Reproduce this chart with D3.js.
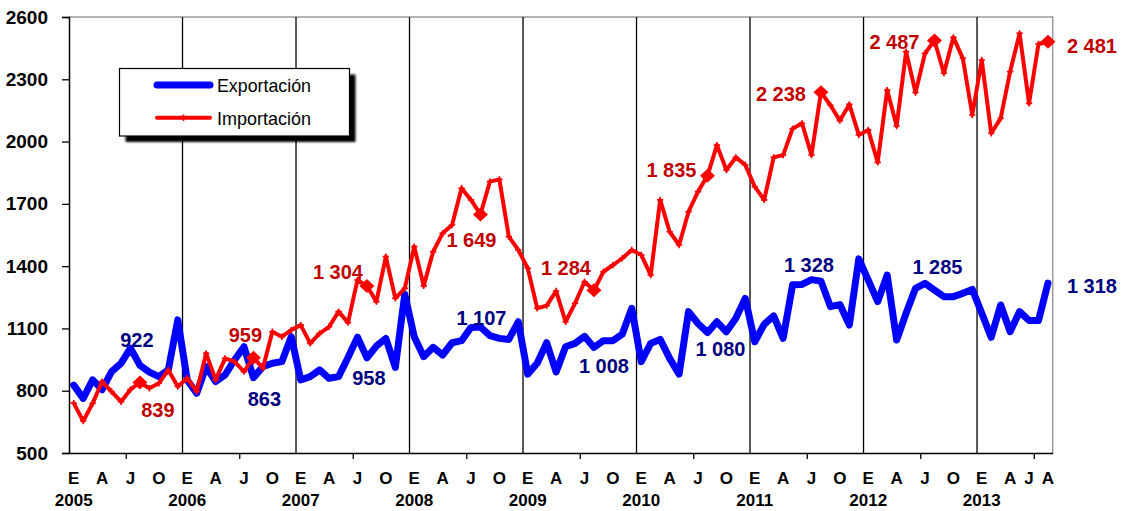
<!DOCTYPE html>
<html>
<head>
<meta charset="utf-8">
<script src="https://cdn.jsdelivr.net/npm/d3@7"></script>
<style>
  body { margin: 0; background: #fff; }
  svg { display: block; }
  text { font-family: Arial, "Liberation Sans", sans-serif; }
</style>
</head>
<body>
<svg id="chart" width="1126" height="511"></svg>
<script>
// Monthly trade flows, January 2005 – August 2013
const years = [2005, 2006, 2007, 2008, 2009, 2010, 2011, 2012, 2013];
const monthsInLastYear = 8;

const exportacion = [
  827, 763, 852, 805, 892, 932, 1005, 922, 890, 868, 900, 1141,
  852, 788, 916, 844, 876, 948, 1012, 863, 916, 932, 940, 1060,
  852, 868, 900, 860, 868, 960, 1058, 958, 1015, 1052, 912, 1265,
  1060, 964, 1009, 972, 1031, 1041, 1105, 1107, 1065, 1052, 1047, 1132,
  880, 932, 1031, 890, 1012, 1028, 1062, 1008, 1041, 1041, 1073, 1197,
  940, 1028, 1047, 956, 880, 1181, 1124, 1080, 1132, 1084, 1149, 1245,
  1036, 1120, 1160, 1052, 1310, 1312, 1335, 1328, 1205, 1215, 1116, 1435,
  1333, 1229, 1357, 1044, 1173, 1293, 1317, 1285, 1253, 1253, 1269, 1288,
  1173, 1057, 1213, 1084, 1181, 1138, 1138, 1318
];

const importacion = [
  740, 654, 739, 844, 796, 747, 806, 839, 812, 836, 900, 820,
  860, 796, 980, 852, 956, 940, 892, 959, 908, 1084, 1060, 1092,
  1116, 1028, 1076, 1108, 1181, 1128, 1333, 1304, 1229, 1446, 1245, 1293,
  1494, 1305, 1470, 1558, 1598, 1775, 1719, 1649, 1807, 1818, 1542, 1478,
  1390, 1197, 1210, 1280, 1132, 1221, 1325, 1284, 1373, 1405, 1438, 1478,
  1454, 1357, 1719, 1566, 1502, 1662, 1759, 1835, 1983, 1863, 1924, 1887,
  1783, 1719, 1924, 1935, 2062, 2088, 1935, 2238, 2175, 2101, 2179, 2032,
  2056, 1900, 2248, 2075, 2433, 2236, 2425, 2487, 2329, 2502, 2401, 2128,
  2393, 2040, 2112, 2337, 2521, 2184, 2470, 2481
];

const yTicks = [500, 800, 1100, 1400, 1700, 2000, 2300, 2600];
const monthTickIdx = [];
const monthTickText = [];
years.forEach((yr, k) => {
  const base = k * 12;
  if (yr < 2013) {
    ["E", "A", "J", "O"].forEach((m, j) => { monthTickIdx.push(base + j * 3); monthTickText.push(m); });
  }
});
// last (partial) year
[[96, "E"], [99, "A"], [101, "J"], [103, "A"]].forEach(([i, t]) => { monthTickIdx.push(i); monthTickText.push(t); });

const seriesNames = ["Exportación", "Importación"];

// categories: one per month
const periods = [];
years.forEach((yr, k) => {
  const n = yr === 2013 ? monthsInLastYear : 12;
  for (let m = 1; m <= n; m++) periods.push(yr + "-" + String(m).padStart(2, "0"));
});
// August of every year carries a marker and a value label
const augustIdx = periods.map((p, i) => p.endsWith("-08") ? i : -1).filter(i => i >= 0);

// label placement around each August point (dx, dy from the point)
const impLabelOffset = [[18, 27], [-8, -23], [-29, -14], [-9, 26], [-28, -22], [-36, -6], [-40, 2], [-40, 2], [44, 4]];
const expLabelOffset = [[-3, -25], [11, 21], [2, 20], [1, -9], [10, 18], [13, 16], [-12, -16], [3, -23], [44, 3]];

// ---------- layout ----------
const svg = d3.select("#chart");
const L = 69, R = 1052.7, T = 17, B = 453;

const xb = d3.scaleBand().domain(d3.range(periods.length)).range([L, R]).padding(0);
const cx = i => xb(i) + xb.bandwidth() / 2;
const y = d3.scaleLinear().domain([500, 2600]).range([B, T]);

const fmt = d3.formatLocale({ decimal: ".", thousands: " ", grouping: [3], currency: ["", ""] }).format(",");

// plot frame: top and right in grey
svg.append("path")
  .attr("d", `M${L},${T}H${R}V${B}`)
  .attr("fill", "none").attr("stroke", "#9a9a9a").attr("stroke-width", 1.5);

// year separators
svg.append("g").selectAll("line")
  .data(d3.range(12, periods.length, 12))
  .join("line")
  .attr("x1", d => xb(d)).attr("x2", d => xb(d))
  .attr("y1", T).attr("y2", B)
  .attr("stroke", "#000").attr("stroke-width", 1.3);

// Y axis
const yAxis = svg.append("g")
  .attr("transform", `translate(${L},0)`)
  .call(d3.axisLeft(y).tickValues(yTicks).tickSize(7).tickPadding(14).tickFormat(d3.format("d")));
yAxis.select(".domain").attr("stroke", "#000").attr("stroke-width", 1.5);
yAxis.selectAll(".tick line").attr("stroke", "#000").attr("stroke-width", 1.3);
yAxis.selectAll(".tick text")
  .attr("font-size", 19).attr("font-weight", "bold").attr("fill", "#000")
  .attr("font-family", "Arial, 'Liberation Sans', sans-serif");

// X axis: baseline + half-year tick marks
const xLin = d3.scaleLinear().domain([0, periods.length]).range([L, R]);
const xAxis = svg.append("g")
  .attr("transform", `translate(0,${B})`)
  .call(d3.axisBottom(xLin)
    .tickValues(d3.range(6, periods.length, 12))
    .tickSize(6).tickSizeOuter(0).tickFormat(""));
xAxis.select(".domain").attr("stroke", "#000").attr("stroke-width", 1.5);
xAxis.selectAll(".tick line").attr("stroke", "#000").attr("stroke-width", 1.3);

// month letters
svg.append("g").selectAll("text")
  .data(monthTickIdx)
  .join("text")
  .attr("x", d => cx(d)).attr("y", 484)
  .attr("text-anchor", "middle")
  .attr("font-size", 17).attr("font-weight", "bold").attr("fill", "#000")
  .text((d, i) => monthTickText[i]);

// years
svg.append("g").selectAll("text")
  .data(years)
  .join("text")
  .attr("x", (d, k) => cx(k * 12)).attr("y", 506)
  .attr("text-anchor", "middle")
  .attr("font-size", 17).attr("font-weight", "bold").attr("fill", "#000")
  .text(d => d);

// ---------- series ----------
const line = d3.line().x((d, i) => cx(i)).y(d => y(d));

svg.append("path")
  .datum(exportacion)
  .attr("d", line)
  .attr("fill", "none").attr("stroke", "#0000ff").attr("stroke-width", 7)
  .attr("stroke-linejoin", "round").attr("stroke-linecap", "round");

svg.append("path")
  .datum(importacion)
  .attr("d", line)
  .attr("fill", "none").attr("stroke", "#ff0000").attr("stroke-width", 4)
  .attr("stroke-linejoin", "round").attr("stroke-linecap", "round");

// small cross markers on the import series
svg.append("g").selectAll("path")
  .data(importacion)
  .join("path")
  .attr("transform", (d, i) => `translate(${cx(i)},${y(d)})`)
  .attr("d", "M-3.2,0H3.2M0,-3.2V3.2")
  .attr("stroke", "#ff0000").attr("stroke-width", 1.6);

// August diamonds
svg.append("g").selectAll("path")
  .data(augustIdx)
  .join("path")
  .attr("transform", i => `translate(${cx(i)},${y(importacion[i])})`)
  .attr("d", "M0,-7L7.5,0L0,7L-7.5,0Z")
  .attr("fill", "#ff0000");

// value labels
svg.append("g").selectAll("text")
  .data(augustIdx)
  .join("text")
  .attr("x", (i, k) => cx(i) + impLabelOffset[k][0])
  .attr("y", (i, k) => y(importacion[i]) + impLabelOffset[k][1])
  .attr("dy", "0.35em").attr("text-anchor", "middle")
  .attr("font-size", 20).attr("font-weight", "bold").attr("fill", "#c00000")
  .text(i => fmt(importacion[i]));

svg.append("g").selectAll("text")
  .data(augustIdx)
  .join("text")
  .attr("x", (i, k) => cx(i) + expLabelOffset[k][0])
  .attr("y", (i, k) => y(exportacion[i]) + expLabelOffset[k][1])
  .attr("dy", "0.35em").attr("text-anchor", "middle")
  .attr("font-size", 20).attr("font-weight", "bold").attr("fill", "#000080")
  .text(i => fmt(exportacion[i]));

// ---------- legend ----------
const defs = svg.append("defs");
defs.append("filter").attr("id", "soft").attr("x", "-10%").attr("y", "-10%").attr("width", "120%").attr("height", "130%")
  .append("feGaussianBlur").attr("stdDeviation", 0.8);

const lg = svg.append("g");
lg.append("rect")
  .attr("x", 125.5).attr("y", 74.5).attr("width", 230).attr("height", 67.5)
  .attr("fill", "#000").attr("filter", "url(#soft)");
lg.append("rect")
  .attr("x", 119.5).attr("y", 68.5).attr("width", 230).attr("height", 67.5)
  .attr("fill", "#fff").attr("stroke", "#000").attr("stroke-width", 1.2);

lg.append("line")
  .attr("x1", 157).attr("x2", 210).attr("y1", 85).attr("y2", 85)
  .attr("stroke", "#0000ff").attr("stroke-width", 7).attr("stroke-linecap", "round");
lg.append("line")
  .attr("x1", 157).attr("x2", 210).attr("y1", 117.7).attr("y2", 117.7)
  .attr("stroke", "#ff0000").attr("stroke-width", 4).attr("stroke-linecap", "round");
lg.append("path")
  .attr("transform", "translate(183.5,117.7)")
  .attr("d", "M-3.2,0H3.2M0,-3.2V3.2")
  .attr("stroke", "#ff0000").attr("stroke-width", 1.6);

lg.selectAll("text.lbl")
  .data(seriesNames)
  .join("text")
  .attr("class", "lbl")
  .attr("x", 217).attr("y", (d, i) => i === 0 ? 92 : 124.7)
  .attr("font-size", 19).attr("fill", "#000")
  .attr("textLength", 94).attr("lengthAdjust", "spacingAndGlyphs")
  .text(d => d);
</script>
</body>
</html>
